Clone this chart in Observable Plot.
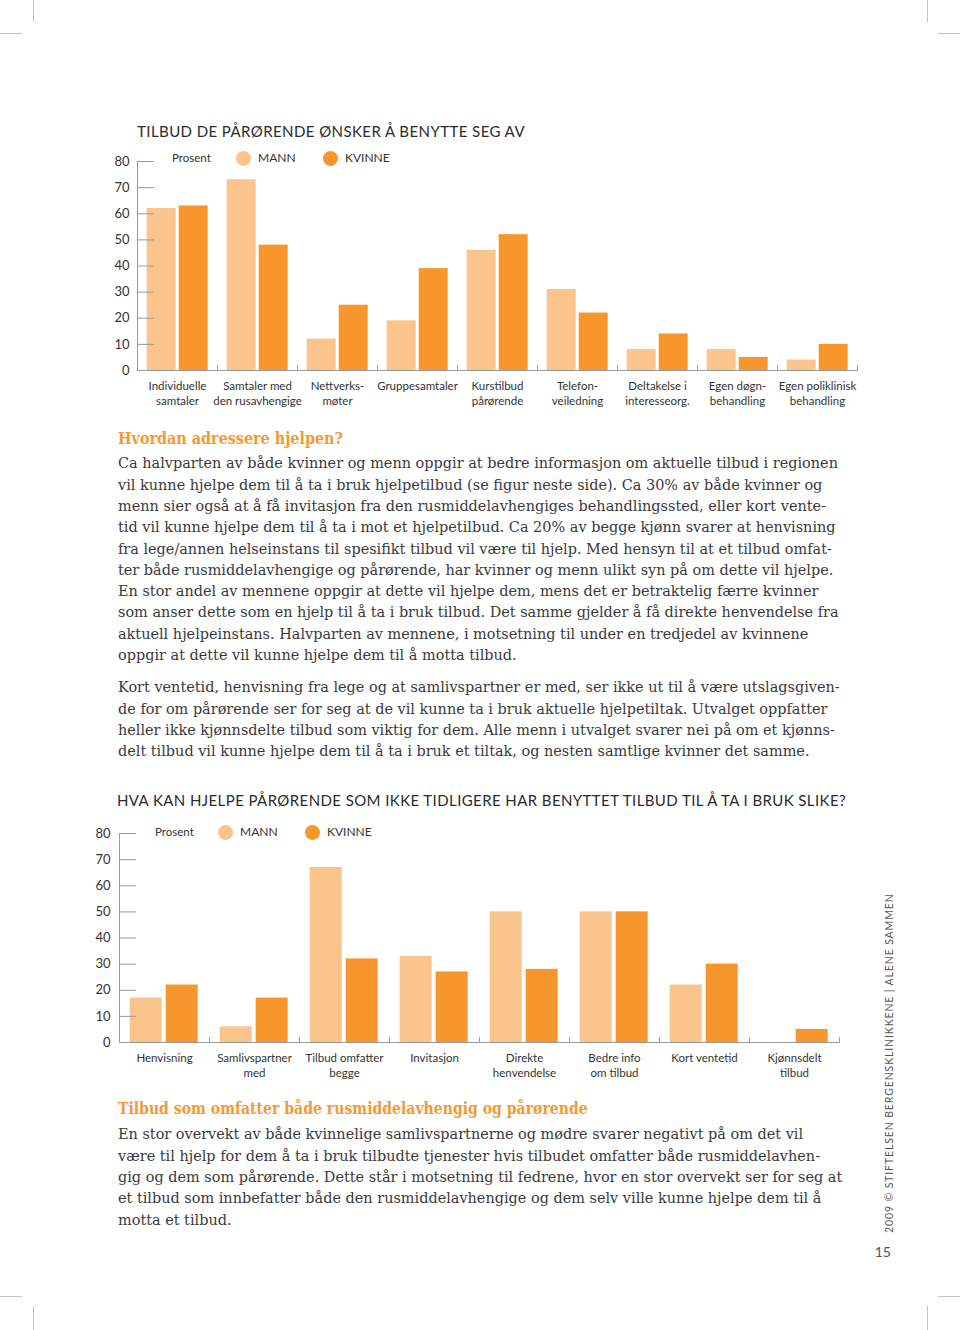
<!DOCTYPE html>
<html><head><meta charset="utf-8">
<script src="https://cdn.jsdelivr.net/npm/d3@7"></script>
<script src="https://cdn.jsdelivr.net/npm/@observablehq/plot@0.6"></script>
<style>
body{margin:0;background:#fff;}
#page{position:relative;width:960px;height:1330px;overflow:hidden;font-family:Lato,"Open Sans",sans-serif;color:#333;}
.abs{position:absolute;white-space:nowrap;}
.crop{position:absolute;background:#c4c4c4;}
.title{font-size:15px;color:#2b2b2b;line-height:20px;}
.leg{font-size:11.5px;line-height:14px;color:#333;}
.dot{position:absolute;width:15px;height:15px;border-radius:50%;}
.body{font-family:"DejaVu Serif",serif;color:#3a3a3a;line-height:21.3px;font-size:15px;transform-origin:0 0;}
.head{font-family:"DejaVu Serif",serif;font-weight:bold;color:#F39A35;line-height:21.3px;font-size:16px;transform-origin:0 0;}
.line span{display:inline-block;}
.chart{position:absolute;left:0;}
.chart svg{overflow:visible;}
</style></head>
<body><div id="page"></div>
<script>
// ---------- data ----------
const sexes = ["MANN", "KVINNE"];
const sexColors = ["#FAC48C", "#F7962D"];
const yTicks = [0, 10, 20, 30, 40, 50, 60, 70, 80];
const unitLabel = "Prosent";

const title1 = "TILBUD DE PÅRØRENDE ØNSKER Å BENYTTE SEG AV";
const cats1 = ["Individuelle\nsamtaler", "Samtaler med\nden rusavhengige", "Nettverks-\nmøter", "Gruppesamtaler",
  "Kurstilbud\npårørende", "Telefon-\nveiledning", "Deltakelse i\ninteresseorg.", "Egen døgn-\nbehandling", "Egen poliklinisk\nbehandling"];
const mann1 = [62, 73, 12, 19, 46, 31, 8, 8, 4];
const kvinne1 = [63, 48, 25, 39, 52, 22, 14, 5, 10];

const title2 = "HVA KAN HJELPE PÅRØRENDE SOM IKKE TIDLIGERE HAR BENYTTET TILBUD TIL Å TA I BRUK SLIKE?";
const cats2 = ["Henvisning", "Samlivspartner\nmed", "Tilbud omfatter\nbegge", "Invitasjon",
  "Direkte\nhenvendelse", "Bedre info\nom tilbud", "Kort ventetid", "Kjønnsdelt\ntilbud"];
const mann2 = [17, 6, 67, 33, 50, 50, 22, 0];
const kvinne2 = [22, 17, 32, 27, 28, 50, 30, 5];

const heading1 = "Hvordan adressere hjelpen?";
const para1 = [
  "Ca halvparten av både kvinner og menn oppgir at bedre informasjon om aktuelle tilbud i regionen",
  "vil kunne hjelpe dem til å ta i bruk hjelpetilbud (se figur neste side). Ca 30% av både kvinner og",
  "menn sier også at å få invitasjon fra den rusmiddelavhengiges behandlingssted, eller kort vente-",
  "tid vil kunne hjelpe dem til å ta i mot et hjelpetilbud. Ca 20% av begge kjønn svarer at henvisning",
  "fra lege/annen helseinstans til spesifikt tilbud vil være til hjelp. Med hensyn til at et tilbud omfat-",
  "ter både rusmiddelavhengige og pårørende, har kvinner og menn ulikt syn på om dette vil hjelpe.",
  "En stor andel av mennene oppgir at dette vil hjelpe dem, mens det er betraktelig færre kvinner",
  "som anser dette som en hjelp til å ta i bruk tilbud. Det samme gjelder å få direkte henvendelse fra",
  "aktuell hjelpeinstans. Halvparten av mennene, i motsetning til under en tredjedel av kvinnene",
  "oppgir at dette vil kunne hjelpe dem til å motta tilbud."
];
const para2 = [
  "Kort ventetid, henvisning fra lege og at samlivspartner er med, ser ikke ut til å være utslagsgiven-",
  "de for om pårørende ser for seg at de vil kunne ta i bruk aktuelle hjelpetiltak. Utvalget oppfatter",
  "heller ikke kjønnsdelte tilbud som viktig for dem. Alle menn i utvalget svarer nei på om et kjønns-",
  "delt tilbud vil kunne hjelpe dem til å ta i bruk et tiltak, og nesten samtlige kvinner det samme."
];
const heading2 = "Tilbud som omfatter både rusmiddelavhengig og pårørende";
const para3 = [
  "En stor overvekt av både kvinnelige samlivspartnerne og mødre svarer negativt på om det vil",
  "være til hjelp for dem å ta i bruk tilbudte tjenester hvis tilbudet omfatter både rusmiddelavhen-",
  "gig og dem som pårørende. Dette står i motsetning til fedrene, hvor en stor overvekt ser for seg at",
  "et tilbud som innbefatter både den rusmiddelavhengige og dem selv ville kunne hjelpe dem til å",
  "motta et tilbud."
];
const sideText = "2009 © STIFTELSEN BERGENSKLINIKKENE | ALENE SAMMEN";
const pageNumber = "15";

// ---------- helpers ----------
const page = document.getElementById("page");
function el(tag, cls, css, html) {
  const e = document.createElement(tag);
  if (cls) e.className = cls;
  if (css) Object.assign(e.style, css);
  if (html != null) e.textContent = html;
  page.appendChild(e);
  return e;
}
function fitSpacing(e, target) {
  const w = e.offsetWidth;
  const n = e.textContent.length;
  e.style.letterSpacing = ((target - w) / n) + "px";
}

// crop marks
[[33,0,1,22],[0,33,22,1],[927,0,1,22],[938,33,22,1],[0,1296,22,1],[33,1306,1,24],[938,1296,22,1],[927,1306,1,24]]
  .forEach(([l,t,w,h]) => el("div","crop",{left:l+"px",top:t+"px",width:w+"px",height:h+"px"}));

function makeChart(cats, mann, kvinne, o) {
  const rows = cats.flatMap((c, i) => [
    {cat: c, sex: sexes[0], v: mann[i]},
    {cat: c, sex: sexes[1], v: kvinne[i]}
  ]);
  const plotH = 209;
  return Plot.plot({
    width: 960, height: 20 + plotH + 40,
    marginTop: 20, marginBottom: 40, marginLeft: o.ml, marginRight: o.mr,
    style: {fontFamily: "Lato, sans-serif", fontSize: "11.5px", color: "#333", background: "transparent", overflow: "visible"},
    fx: {domain: cats, padding: 0, label: null},
    x: {domain: sexes, paddingInner: o.pi, paddingOuter: o.po, axis: null},
    y: {domain: [0, 80], label: null},
    color: {domain: sexes, range: sexColors},
    marks: [
      Plot.barY(rows, {fx: "cat", x: "sex", y: "v", fill: "sex"}),
      Plot.frame({anchor: "bottom", stroke: "#9a9a9a"}),
      Plot.frame({anchor: "left", stroke: "#9a9a9a", facetAnchor: "left"}),
      Plot.frame({anchor: "left", stroke: "#9a9a9a", insetTop: plotH - 5}),
      Plot.frame({anchor: "right", stroke: "#9a9a9a", insetTop: plotH - 5}),
      Plot.axisY(yTicks, {tickSize: -17, fill: "none", stroke: "#9a9a9a", label: null}),
      Plot.axisY(yTicks, {tickSize: 0, tickPadding: o.tp, label: null, fontSize: 13, fill: "#333"}),
      Plot.axisFx({anchor: "bottom", tickSize: 0, tickPadding: 9, label: null, lineHeight: 1.3, fill: "#333"})
    ]
  });
}

function legend(x0, yc, xs) {
  el("div", "abs leg", {left: x0 + "px", top: (yc - 7) + "px"}, unitLabel);
  sexes.forEach((s, i) => {
    el("div", "dot", {left: (xs[i] - 7.5) + "px", top: (yc - 7.5) + "px", background: sexColors[i]});
    el("div", "abs leg", {left: (xs[i] + 15) + "px", top: (yc - 7) + "px", fontSize: "12px"}, s);
  });
}

// chart 1
const t1 = el("div", "abs title", {left: "137px", top: "121px"}, title1);
const c1 = el("div", "chart", {top: "140.5px"});
c1.appendChild(makeChart(cats1, mann1, kvinne1, {ml: 137.3, mr: 102.7, pi: 0.094, po: 0.297, tp: 8}));
legend(172, 158, [243, 330]);

// chart 2
const t2 = el("div", "abs title", {left: "117px", top: "790px"}, title2);
const c2 = el("div", "chart", {top: "813.3px"});
c2.appendChild(makeChart(cats2, mann2, kvinne2, {ml: 119.3, mr: 120.7, pi: 0.12, po: 0.3, tp: 9}));
legend(155, 832, [225, 312]);

// text blocks
function para(lines, top) {
  const d = el("div", "abs body", {left: "118px", top: top + "px"});
  lines.forEach(t => {
    const l = document.createElement("div");
    l.className = "line";
    const s = document.createElement("span");
    s.textContent = t;
    l.appendChild(s);
    d.appendChild(l);
  });
  return d;
}
const h1 = el("div", "abs head", {left: "118px", top: "428.4px"}, heading1);
const p1 = para(para1, 453.4);
const p2 = para(para2, 677.4);
const h2 = el("div", "abs head", {left: "118px", top: "1098.4px"}, heading2);
const p3 = para(para3, 1124.4);

// side text and page number
const side = el("div", "abs", {left: "889px", top: "1233px", fontSize: "10.5px", color: "#555", lineHeight: "14px",
  transformOrigin: "0 0", transform: "rotate(-90deg) translateY(-50%)"}, sideText);
el("div", "abs", {left: "868px", top: "1243px", width: "23px", textAlign: "right", fontSize: "14px", color: "#555", lineHeight: "18px"}, pageNumber);

// fit text widths to page layout (condense horizontally like the printed face)
fitSpacing(t1, 388);
fitSpacing(t2, 729);
fitSpacing(side, 340);
const w0 = p1.querySelector("span").offsetWidth;
const sx = 720 / w0;
[p1, p2, p3].forEach(p => p.style.transform = `scaleX(${sx})`);
[[h1, 225], [h2, 470]].forEach(([h, target]) => {
  h.style.transform = `scaleX(${target / h.offsetWidth})`;
});
</script>
</body></html>
